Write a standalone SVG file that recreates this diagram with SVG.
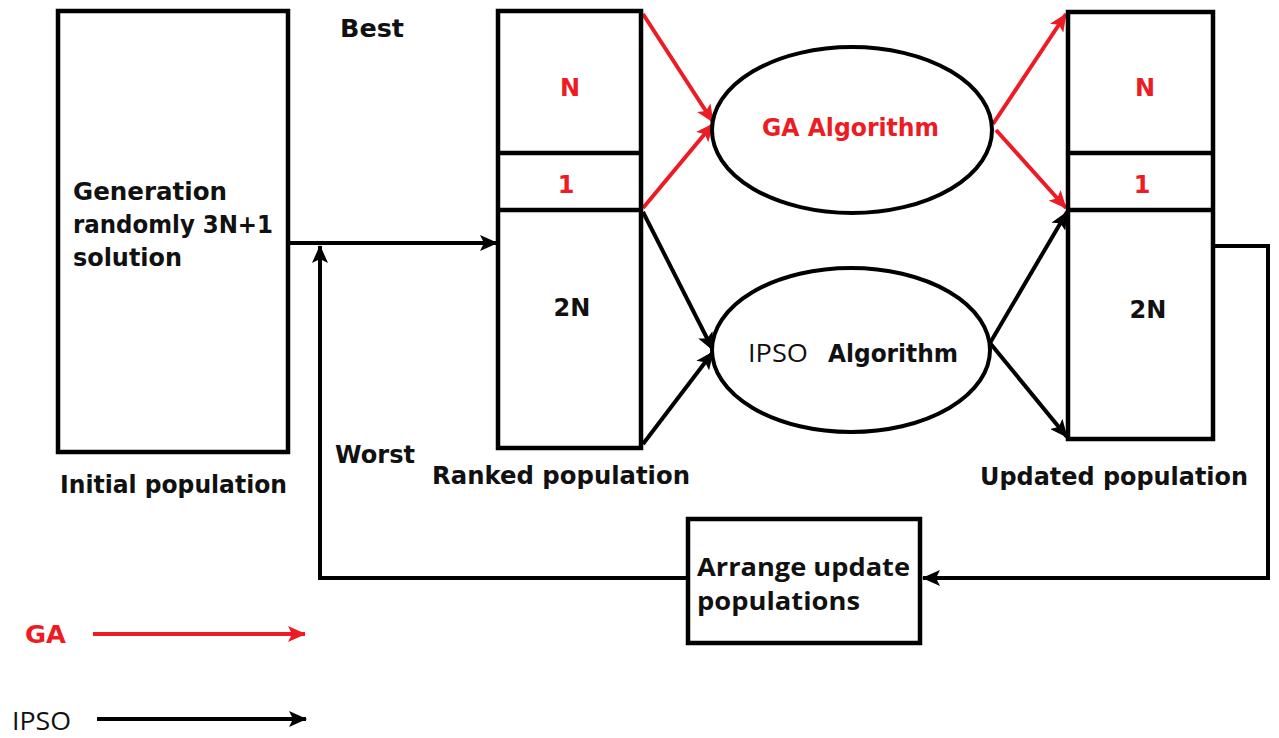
<svg xmlns="http://www.w3.org/2000/svg" width="1279" height="738" viewBox="0 0 1279 738">
  <style>
    .box { fill: #fff; stroke: #000; stroke-width: 4.5; }
    .div { stroke: #000; stroke-width: 4.5; }
    .ell { fill: #fff; stroke: #000; stroke-width: 4; }
    .t { font-family: "DejaVu Sans", "Liberation Sans", sans-serif; font-weight: bold; font-size: 24px; fill: #111; }
    .red { fill: #ed1c24; }
    .reg { font-family: "Open Sans", "Liberation Sans", sans-serif; font-weight: normal; font-size: 25px; fill: #111; }
    .narrow { font-family: "Open Sans", "Liberation Sans", sans-serif; font-weight: bold; font-size: 25px; fill: #111; }
    .k { fill: none; stroke: #000; stroke-width: 4; }
    .r { fill: none; stroke: #ed1c24; stroke-width: 4; }
  </style>
  <defs>
    <marker id="ak" markerUnits="userSpaceOnUse" markerWidth="18" markerHeight="16" viewBox="0 0 18 16" refX="17" refY="8" orient="auto">
      <path d="M0,0 L18,8 L0,16 L4,8 z" fill="#000"/>
    </marker>
    <marker id="ar" markerUnits="userSpaceOnUse" markerWidth="18" markerHeight="16" viewBox="0 0 18 16" refX="17" refY="8" orient="auto">
      <path d="M0,0 L18,8 L0,16 L4,8 z" fill="#ed1c24"/>
    </marker>
  </defs>
  <rect width="1279" height="738" fill="#fff"/>

  <!-- connectors -->
  <g id="connectors">
    <path class="k" d="M288 243 H497" marker-end="url(#ak)"/>
    <path class="k" d="M1213 246 H1268 V578 H923" marker-end="url(#ak)"/>
    <path class="k" d="M688 578 H320 V246" marker-end="url(#ak)"/>
    <path class="k" d="M643 212 L713 350" marker-end="url(#ak)"/>
    <path class="k" d="M643 444 L713 352" marker-end="url(#ak)"/>
    <path class="k" d="M990 343 L1067 212" marker-end="url(#ak)"/>
    <path class="k" d="M990 343 L1067 437" marker-end="url(#ak)"/>
    <path class="r" d="M643 14 L713 122" marker-end="url(#ar)"/>
    <path class="r" d="M643 208 L713 124" marker-end="url(#ar)"/>
    <path class="r" d="M993 124 L1066 14" marker-end="url(#ar)"/>
    <path class="r" d="M996 130 L1066 208" marker-end="url(#ar)"/>
  </g>

  <g id="initial">
    <rect class="box" x="58" y="11" width="230" height="441"/>
    <text class="t" x="73" y="200" textLength="154" lengthAdjust="spacingAndGlyphs">Generation</text>
    <text class="t" x="73" y="233" textLength="200" lengthAdjust="spacingAndGlyphs">randomly 3N+1</text>
    <text class="t" x="73" y="266" textLength="109" lengthAdjust="spacingAndGlyphs">solution</text>
    <text class="t" x="60" y="493" textLength="227" lengthAdjust="spacingAndGlyphs">Initial population</text>
  </g>

  <g id="ranked">
    <rect class="box" x="498" y="11" width="143" height="437"/>
    <line class="div" x1="498" y1="153" x2="641" y2="153"/>
    <line class="div" x1="498" y1="210" x2="641" y2="210"/>
    <text class="t red" x="570" y="96" text-anchor="middle">N</text>
    <text class="t red" x="566" y="193" text-anchor="middle">1</text>
    <text class="t" x="572" y="316" text-anchor="middle">2N</text>
    <text class="t" x="432" y="484" textLength="258" lengthAdjust="spacingAndGlyphs">Ranked population</text>
  </g>

  <g id="labels">
    <text class="t" x="340" y="37" textLength="64" lengthAdjust="spacingAndGlyphs">Best</text>
    <text class="t" x="335" y="463" textLength="80" lengthAdjust="spacingAndGlyphs">Worst</text>
  </g>

  <g id="ga">
    <ellipse class="ell" cx="852" cy="130" rx="140" ry="83"/>
    <text class="t red" x="762" y="136" textLength="177" lengthAdjust="spacingAndGlyphs">GA Algorithm</text>
  </g>

  <g id="ipso">
    <ellipse class="ell" cx="851" cy="350" rx="139" ry="82"/>
    <text class="reg" x="748" y="362" textLength="60" lengthAdjust="spacingAndGlyphs">IPSO</text>
    <text class="t" x="828" y="362" textLength="130" lengthAdjust="spacingAndGlyphs">Algorithm</text>
  </g>

  <g id="updated">
    <rect class="box" x="1068" y="12" width="145" height="427"/>
    <line class="div" x1="1068" y1="153" x2="1213" y2="153"/>
    <line class="div" x1="1068" y1="210" x2="1213" y2="210"/>
    <text class="t red" x="1145" y="96" text-anchor="middle">N</text>
    <text class="t red" x="1142" y="193" text-anchor="middle">1</text>
    <text class="t" x="1148" y="318" text-anchor="middle">2N</text>
    <text class="t" x="980" y="485" textLength="268" lengthAdjust="spacingAndGlyphs">Updated population</text>
  </g>

  <g id="arrange">
    <rect class="box" x="688" y="519" width="232" height="124"/>
    <text class="narrow" x="697" y="576" textLength="213" lengthAdjust="spacingAndGlyphs">Arrange update</text>
    <text class="narrow" x="697" y="610" textLength="163" lengthAdjust="spacingAndGlyphs">populations</text>
  </g>

  <g id="legend">
    <text class="t red" x="25" y="643" textLength="41" lengthAdjust="spacingAndGlyphs">GA</text>
    <path class="r" d="M93 634 H305" marker-end="url(#ar)"/>
    <text class="reg" x="12" y="730" textLength="59" lengthAdjust="spacingAndGlyphs">IPSO</text>
    <path class="k" d="M97 719 H306" marker-end="url(#ak)"/>
  </g>
</svg>
